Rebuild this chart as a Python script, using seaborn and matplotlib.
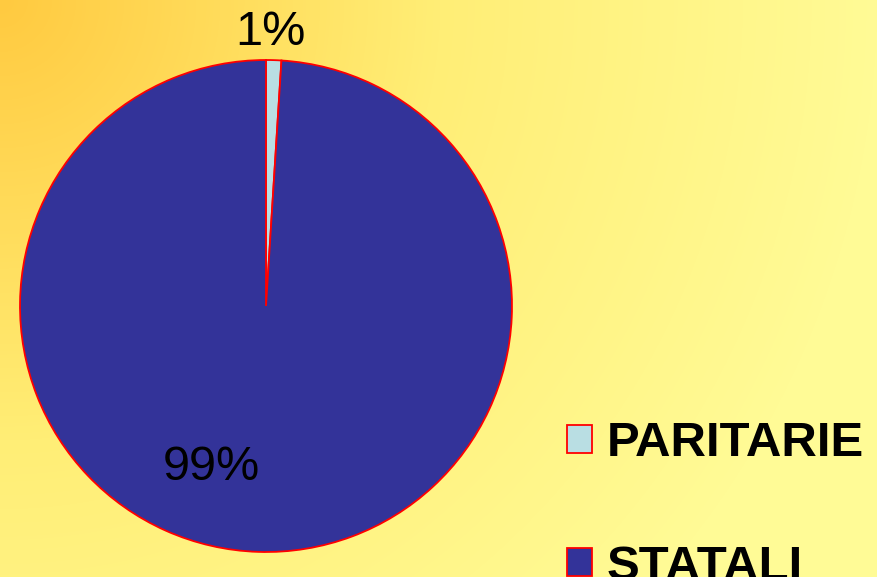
import numpy as np
import matplotlib.pyplot as plt
import seaborn as sns
from matplotlib.colors import LinearSegmentedColormap

# data
categories = ["PARITARIE", "STATALI"]
values = [1, 99]
slice_colors = ["#B9DEE3", "#333399"]

sns.set_style("white")
plt.rcParams["font.family"] = ["Liberation Sans", "DejaVu Sans"]
plt.rcParams["text.color"] = "black"

W, H = 878, 577
fig = plt.figure(figsize=(W / 100, H / 100), dpi=100)

# background: radial gradient from the top-left corner
bg = fig.add_axes([0, 0, 1, 1])
yy, xx = np.mgrid[0:H, 0:W]
dist = np.clip(np.sqrt(xx ** 2 + yy ** 2) / 880.0, 0, 1)
grad = LinearSegmentedColormap.from_list("bg", ["#FFCA40", "#FFEE76", "#FFFB96"])
bg.imshow(dist, cmap=grad, aspect="auto", extent=[0, 1, 0, 1], origin="upper")
bg.set_axis_off()

# pie axes: center (266, 306), radius 246 px
cx, cy, r = 266, 306, 246
ax = fig.add_axes([(cx - r) / W, (H - cy - r) / H, 2 * r / W, 2 * r / H])
wedges, _ = ax.pie(values, colors=slice_colors, startangle=90, counterclock=False,
                   wedgeprops=dict(edgecolor="#FF0000", linewidth=1.3))
for w in wedges:
    w.set_clip_on(False)
ax.set_xlim(-1, 1)
ax.set_ylim(-1, 1)
ax.set_axis_off()

pcts = [100 * v / sum(values) for v in values]
label_pos = [(0.02, 1.061), (-0.224, -0.707)]
for p, (tx, ty) in zip(pcts, label_pos):
    ax.text(tx, ty, f"{p:.0f}%", ha="center", va="baseline", fontsize=35, color="black")

leg = fig.legend(wedges, categories, loc="upper left", bbox_to_anchor=(567 / W, 1 - 421 / H),
                 frameon=False, prop=dict(weight="bold", size=35.4), handlelength=0.5,
                 handleheight=0.5, handletextpad=0.31, labelspacing=1.6, borderpad=0,
                 borderaxespad=0, labelcolor="black")

fig.savefig("out.png", dpi=100)
